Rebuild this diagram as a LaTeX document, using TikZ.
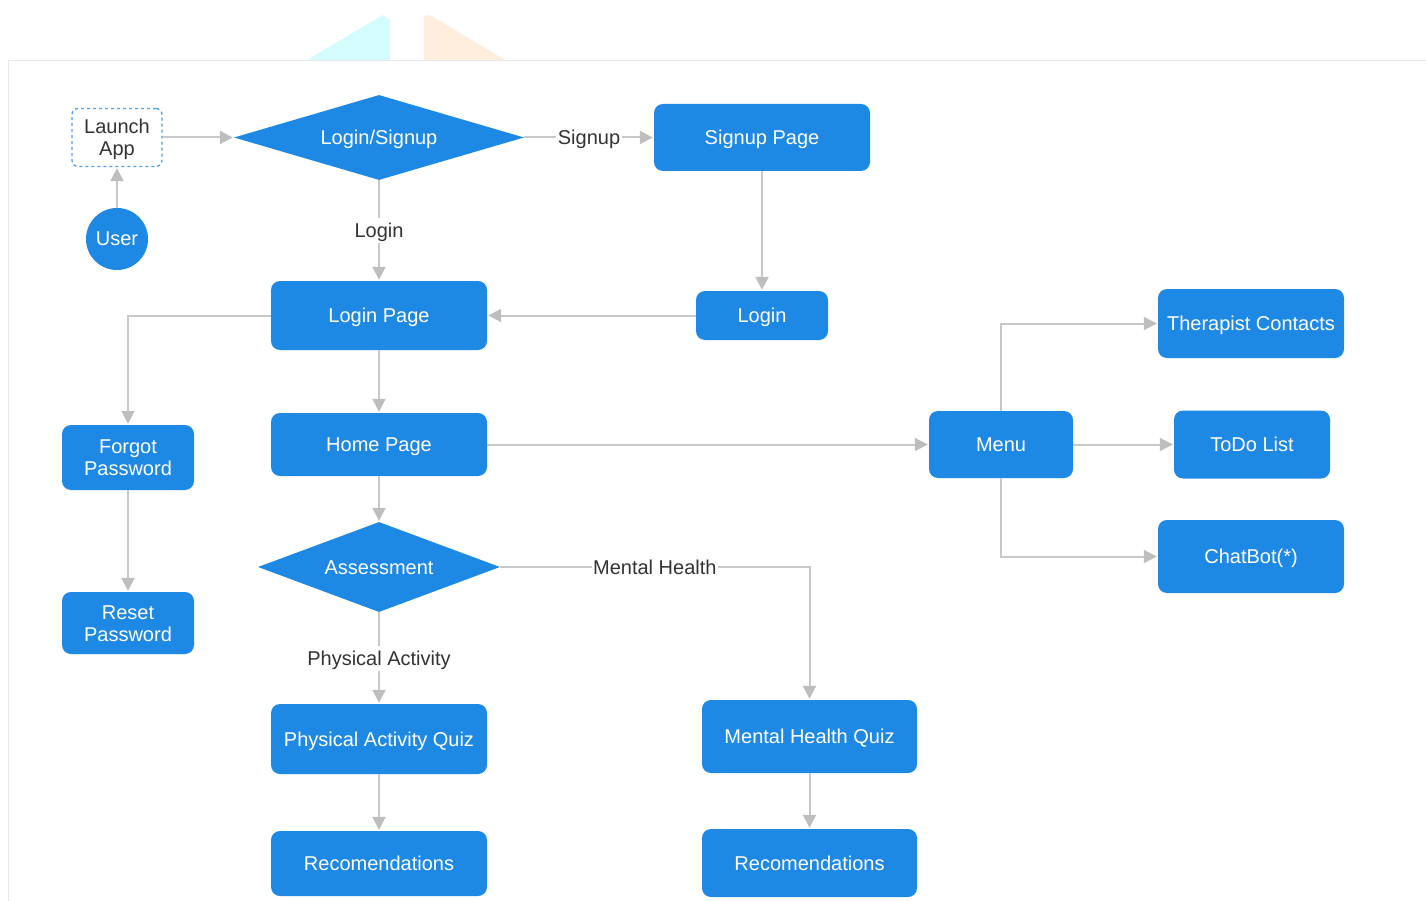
\documentclass[tikz,border=0pt]{standalone}
\usepackage{fontspec}
\setmainfont{Liberation Sans}
\usetikzlibrary{arrows.meta,shapes.geometric}
\definecolor{nodeblue}{HTML}{1E88E5}
\definecolor{edgegray}{HTML}{C8C8C8}
\definecolor{tipgray}{HTML}{BEBEBE}
\definecolor{labelgray}{HTML}{333333}
\definecolor{framegray}{HTML}{E8E8E8}
\definecolor{ghostcyan}{HTML}{D4FCFC}
\definecolor{ghostpeach}{HTML}{FFEEDD}
\definecolor{dashblue}{HTML}{4A9FEA}
\begin{document}
\begin{tikzpicture}[x=1pt,y=-1pt,
  every node/.style={font=\fontsize{20}{22}\selectfont},
  oneline/.style={text height=18pt, text depth=4pt},
  twoline/.style={text height=36pt, text depth=0pt},
  box/.style={fill=nodeblue, draw=none, rounded corners=9pt, text=white, align=center, inner sep=0pt},
  decision/.style={diamond, fill=nodeblue, draw=none, text=white, inner sep=0pt, align=center, oneline},
  startbox/.style={draw=dashblue, dashed, line width=1.3pt, rounded corners=6pt, fill=white, text=labelgray, align=center, inner sep=0pt},
  userdot/.style={circle, fill=nodeblue, text=white, inner sep=0pt, minimum size=62pt, oneline},
  link/.style={draw=edgegray, line width=2pt, -{Triangle[length=13pt,width=13pt,color=tipgray]}, shorten >=1pt},
  lbl/.style={fill=white, text=labelgray, inner sep=1.5pt, oneline}
]
\useasboundingbox (0,0) rectangle (1426,901);
% background decorations
\fill[ghostcyan] (307,60) -- (383,15) -- (390,20) -- (390,60) -- cycle;
\fill[ghostpeach] (424,60) -- (424,16) -- (430,15) -- (505,60) -- cycle;
\draw[framegray, line width=1pt] (8,901) -- (8,60.5) -- (1426,60.5);

% nodes
\node[startbox, twoline, minimum width=90pt, minimum height=58pt] (launch) at (117,137.5) {Launch\\App};
\node[userdot] (user) at (117,239) {User};
\node[decision, minimum width=290pt, minimum height=85pt, aspect=3.41] (ls) at (379,137.5) {Login/Signup};
\node[box, oneline, minimum width=216pt, minimum height=67pt] (sp) at (762,137.5) {Signup Page};
\node[box, oneline, minimum width=132pt, minimum height=49pt] (lr) at (762,315.5) {Login};
\node[box, oneline, minimum width=216pt, minimum height=69pt] (lp) at (379,315.5) {Login Page};
\node[box, twoline, minimum width=132pt, minimum height=65pt] (fp) at (128,457.5) {Forgot\\Password};
\node[box, twoline, minimum width=132pt, minimum height=62pt] (rp) at (128,623) {Reset\\Password};
\node[box, oneline, minimum width=216pt, minimum height=63pt] (hp) at (379,444.5) {Home Page};
\node[box, oneline, minimum width=144pt, minimum height=67pt] (menu) at (1001,444.5) {Menu};
\node[box, oneline, minimum width=186pt, minimum height=69pt] (tc) at (1251,323.5) {Therapist Contacts};
\node[box, oneline, minimum width=156pt, minimum height=68pt] (todo) at (1252,444.5) {ToDo List};
\node[box, oneline, minimum width=186pt, minimum height=73pt] (cb) at (1251,556.5) {ChatBot(*)};
\node[decision, minimum width=242pt, minimum height=90pt, aspect=2.69] (as) at (379,567) {Assessment};
\node[box, oneline, minimum width=216pt, minimum height=70pt] (paq) at (379,739) {Physical Activity Quiz};
\node[box, oneline, minimum width=215pt, minimum height=73pt] (mhq) at (809.5,736.5) {Mental Health Quiz};
\node[box, oneline, minimum width=216pt, minimum height=65pt] (rec1) at (379,863.5) {Recomendations};
\node[box, oneline, minimum width=215pt, minimum height=68pt] (rec2) at (809.5,863) {Recomendations};

% connectors
\draw[link] (user) -- (launch);
\draw[link] (launch) -- (ls);
\draw[link] (ls) -- node[lbl] {Signup} (sp);
\draw[link] (ls) -- node[lbl] {Login} (lp);
\draw[link] (sp) -- (lr);
\draw[link] (lr) -- (lp);
\draw[link] (lp.west) -| (fp.north);
\draw[link] (fp) -- (rp);
\draw[link] (lp) -- (hp);
\draw[link] (hp) -- (menu);
\draw[link] (menu.north) |- (tc.west);
\draw[link] (menu) -- (todo);
\draw[link] (menu.south) |- (cb.west);
\draw[link] (hp) -- (as);
\draw[link] (as) -- node[lbl] {Physical Activity} (paq);
\draw[link] (as.east) -| node[lbl, pos=0.25] {Mental Health} (mhq.north);
\draw[link] (paq) -- (rec1);
\draw[link] (mhq) -- (rec2);
\end{tikzpicture}
\end{document}
